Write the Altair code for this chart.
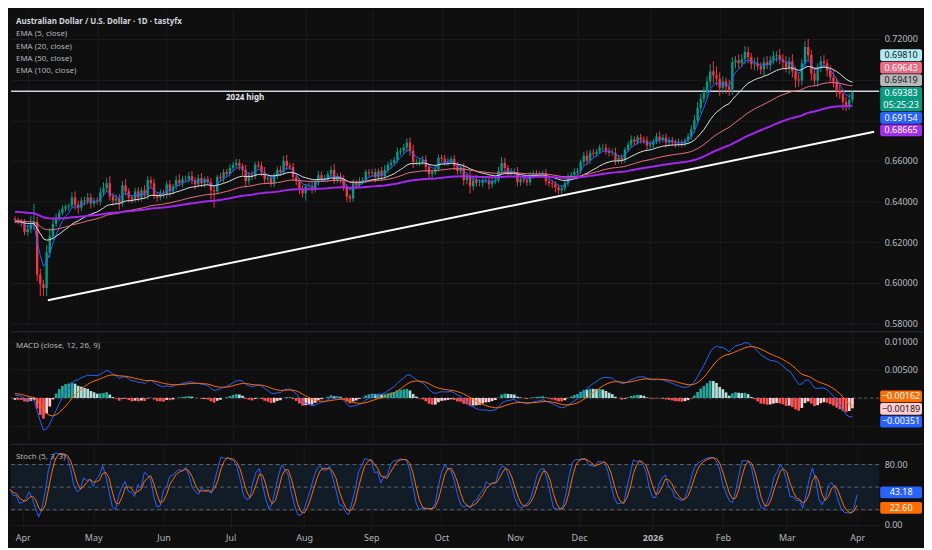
import json
import numpy as np
import pandas as pd
import altair as alt

# ---------------- data ----------------
start_date = "2025-03-26"
end_date = "2026-04-01"

closes = [
    # Mar 26-31 2025
    0.6310, 0.6300, 0.6295, 0.6250,
    # Apr 2025
    0.6265, 0.6285, 0.6300, 0.6040, 0.5995, 0.5975, 0.6150, 0.6230, 0.6290, 0.6320, 0.6345,
    0.6365, 0.6375, 0.6380, 0.6420, 0.6385, 0.6370, 0.6405, 0.6400, 0.6420, 0.6390, 0.6405,
    # May
    0.6400, 0.6445, 0.6465, 0.6490, 0.6425, 0.6405, 0.6415, 0.6390, 0.6480, 0.6450, 0.6420,
    0.6410, 0.6450, 0.6420, 0.6455, 0.6430, 0.6505, 0.6490, 0.6430, 0.6420, 0.6440, 0.6435,
    # Jun
    0.6485, 0.6450, 0.6475, 0.6505, 0.6490, 0.6510, 0.6510, 0.6525, 0.6505, 0.6485, 0.6515,
    0.6490, 0.6510, 0.6495, 0.6455, 0.6450, 0.6520, 0.6515, 0.6545, 0.6535, 0.6565,
    # Jul
    0.6580, 0.6590, 0.6575, 0.6555, 0.6500, 0.6530, 0.6525, 0.6580, 0.6575, 0.6545, 0.6510,
    0.6515, 0.6490, 0.6525, 0.6555, 0.6545, 0.6600, 0.6575, 0.6570, 0.6520, 0.6500, 0.6460, 0.6440,
    # Aug
    0.6475, 0.6475, 0.6460, 0.6495, 0.6530, 0.6510, 0.6515, 0.6535, 0.6555, 0.6505, 0.6525,
    0.6510, 0.6470, 0.6425, 0.6415, 0.6490, 0.6480, 0.6500, 0.6505, 0.6545, 0.6540,
    # Sep
    0.6545, 0.6520, 0.6550, 0.6525, 0.6555, 0.6580, 0.6590, 0.6605, 0.6645, 0.6650, 0.6665,
    0.6690, 0.6650, 0.6595, 0.6595, 0.6595, 0.6605, 0.6570, 0.6535, 0.6545, 0.6560, 0.6615,
    # Oct
    0.6610, 0.6595, 0.6600, 0.6610, 0.6575, 0.6550, 0.6565, 0.6505, 0.6520, 0.6475, 0.6505,
    0.6490, 0.6490, 0.6505, 0.6505, 0.6485, 0.6500, 0.6505, 0.6550, 0.6590, 0.6565, 0.6545, 0.6545,
    # Nov
    0.6545, 0.6495, 0.6510, 0.6505, 0.6495, 0.6530, 0.6535, 0.6530, 0.6535, 0.6540, 0.6500,
    0.6490, 0.6485, 0.6470, 0.6455, 0.6465, 0.6490, 0.6525, 0.6530, 0.6545,
    # Dec
    0.6550, 0.6595, 0.6625, 0.6600, 0.6640, 0.6635, 0.6645, 0.6665, 0.6665, 0.6650, 0.6640,
    0.6640, 0.6605, 0.6615, 0.6605, 0.6655, 0.6680, 0.6705, 0.6695, 0.6715, 0.6705, 0.6700, 0.6675,
    # Jan 2026
    0.6680, 0.6695, 0.6720, 0.6705, 0.6715, 0.6690, 0.6700, 0.6690, 0.6685, 0.6690, 0.6685,
    0.6700, 0.6720, 0.6755, 0.6800, 0.6860, 0.6905, 0.6935, 0.6990, 0.7040, 0.7020, 0.7005,
    # Feb
    0.6960, 0.6990, 0.6965, 0.6950, 0.7085, 0.7095, 0.7080, 0.7100, 0.7135, 0.7110, 0.7075,
    0.7080, 0.7065, 0.7050, 0.7085, 0.7070, 0.7095, 0.7115, 0.7120, 0.7100,
    # Mar
    0.7085, 0.7060, 0.7090, 0.7040, 0.7000, 0.6995, 0.7080, 0.7160, 0.7120, 0.7030, 0.6995,
    0.7060, 0.7090, 0.7080, 0.7045, 0.7010, 0.6990, 0.6950, 0.6930, 0.6890, 0.6875, 0.6900,
    # Apr 1 2026
    0.6938,
]
first_open = 0.6315

upper_wick_pips = [
    12, 10, 15, 18,
    20, 45, 90, 25, 30, 20, 35, 40, 25, 20, 15, 18, 12, 10, 25, 30, 20, 15, 18, 22, 20, 15,
    15, 25, 30, 25, 35, 18, 20, 22, 20, 30, 15, 12, 18, 20, 15, 25, 20, 18, 22, 15, 20, 18,
    15, 20, 12, 22, 30, 15, 18, 20, 25, 15, 18, 25, 12, 15, 20, 18, 12, 20, 15, 15, 18,
    15, 20, 18, 12, 25, 15, 20, 15, 18, 20, 25, 12, 15, 15, 18, 20, 25, 30, 15, 20, 18, 15, 20,
    12, 18, 20, 15, 20, 18, 15, 15, 20, 30, 15, 18, 20, 15, 12, 18, 15, 20, 15, 12, 15,
    15, 18, 12, 20, 25, 15, 18, 15, 20, 15, 18, 20, 25, 30, 15, 18, 20, 22, 15, 12, 18, 15,
    15, 20, 15, 12, 18, 20, 15, 25, 20, 30, 18, 25, 20, 15, 15, 18, 12, 15, 20, 30, 25, 15, 20,
    18, 25, 15, 20, 12, 15, 18, 20, 15, 12, 20, 15, 18, 15, 12, 15, 18, 12, 15, 18,
    15, 12, 20, 25, 15, 18, 12, 15, 20, 18, 15, 20, 25, 15, 18, 12, 15, 20, 15, 12, 18, 15, 20,
    20, 15, 18, 25, 15, 20, 15, 18, 15, 20, 15, 12, 15, 20, 25, 30, 25, 30, 25, 35, 50, 45,
    30, 25, 20, 35, 25, 20, 30, 25, 30, 25, 20, 25, 30, 20, 25, 30, 20, 25, 20, 30,
    25, 30, 20, 35, 25, 30, 20, 30, 40, 25, 30, 20, 25, 30, 20, 25, 35, 20, 25, 20, 25, 30,
    10,
]
lower_wick_pips = [
    15, 12, 20, 15,
    18, 20, 25, 30, 60, 40, 40, 25, 20, 15, 18, 12, 15, 20, 15, 25, 30, 18, 20, 15, 25, 18,
    15, 20, 18, 15, 20, 25, 18, 30, 15, 20, 25, 18, 15, 20, 18, 15, 20, 25, 18, 20, 15, 18,
    20, 25, 15, 18, 15, 20, 15, 18, 20, 25, 15, 18, 20, 15, 45, 80, 15, 18, 20, 15, 12,
    18, 15, 20, 25, 30, 18, 20, 15, 12, 20, 25, 20, 18, 20, 15, 18, 15, 20, 15, 18, 20, 25, 20,
    35, 15, 20, 15, 18, 12, 15, 20, 15, 18, 15, 20, 18, 25, 20, 15, 18, 12, 15, 15, 18,
    20, 25, 18, 20, 15, 15, 18, 12, 15, 18, 15, 20, 25, 30, 18, 20, 15, 25, 20, 18, 15, 12,
    15, 18, 20, 15, 20, 18, 15, 25, 20, 35, 20, 18, 15, 20, 15, 25, 18, 15, 12, 15, 20, 18, 15,
    15, 20, 18, 15, 20, 15, 18, 12, 15, 18, 20, 18, 20, 25, 20, 18, 15, 15, 12, 15,
    12, 15, 18, 20, 15, 18, 15, 12, 15, 20, 18, 15, 25, 18, 20, 15, 12, 15, 18, 15, 20, 18, 20,
    15, 18, 12, 20, 15, 25, 18, 15, 20, 15, 18, 15, 12, 15, 18, 20, 25, 20, 25, 30, 40, 35,
    40, 30, 35, 30, 25, 30, 25, 20, 25, 30, 25, 30, 20, 25, 30, 20, 25, 20, 30, 25,
    30, 25, 35, 30, 40, 30, 25, 20, 30, 35, 25, 30, 25, 20, 30, 25, 30, 35, 25, 40, 30, 25,
    15,
]

# indicator values at the left edge
ema_periods = [5, 20, 50, 100]
ema_seeds = [0.6305, 0.6300, 0.6305, 0.6350]
macd_seed_fast, macd_seed_slow, macd_seed_signal = 0.6305, 0.6300, 0.0008

high_2024 = 0.69419
trend_bars = [10.4, 271.9]
trend_prices = [0.5915, 0.6743]

# grid/tick levels, and the tick labels the picture leaves uncovered
price_ticks = [0.58, 0.60, 0.62, 0.64, 0.66, 0.68, 0.70, 0.72]
price_ticks_shown = [0.58, 0.60, 0.62, 0.64, 0.66, 0.72]
macd_ticks = [0.01, 0.005, 0.0, -0.005]
macd_ticks_shown = [0.01, 0.005]
stoch_ticks = [0, 20, 50, 80]
stoch_ticks_shown = [0, 80]
stoch_levels = [80, 50, 20]
month_names = ["Apr", "May", "Jun", "Jul", "Aug", "Sep", "Oct", "Nov", "Dec", "2026", "Feb", "Mar", "Apr"]

header_price = ["Australian Dollar / U.S. Dollar · 1D · tastyfx",
                "EMA (5, close)", "EMA (20, close)", "EMA (50, close)", "EMA (100, close)"]
header_macd = "MACD (close, 12, 26, 9)"
header_stoch = "Stoch (5, 3, 3)"

# right-scale value tags: (text rows, value, background, text colour, anchor weight)
price_tags = [
    (["0.69810"], 0.69810, "#b2ebf2", "#131722", 1),
    (["0.69643"], 0.69643, "#ec6a84", "#ffffff", 1),
    (["0.69419"], 0.69419, "#b8b8b8", "#131722", 1),
    (["0.69383", "05:25:23"], 0.69383, "#089981", "#ffffff", 20),
    (["0.69154"], 0.69154, "#2962ff", "#ffffff", 1),
    (["0.68665"], 0.68665, "#a030f0", "#ffffff", 1),
]
macd_tags = [
    (["−0.00162"], -0.00162, "#ff6d00", "#ffffff", 1),
    (["−0.00189"], -0.00189, "#ffcdd2", "#131722", 20),
    (["−0.00351"], -0.00351, "#2962ff", "#ffffff", 1),
]
stoch_tags = [
    (["43.18"], 43.18, "#2962ff", "#ffffff", 1),
    (["22.60"], 22.60, "#ff6d00", "#ffffff", 1),
]

# ---------------- style / layout ----------------
FONT = "Noto Sans"
BG = "#0f0f0f"
GRID = "#1c1c1e"
UP, DOWN = "#089981", "#f23645"
W, AX = 872, 44
H1, H2, H3 = 318, 109, 84
ROW = 12.6
price_domain = [0.5789, 0.7346]
macd_domain = [-0.0077, 0.0116]
stoch_domain = [-5.5, 105.6]
x_domain = [0.3, 271.9]

# ---------------- derived table ----------------
dates = pd.bdate_range(start_date, end_date)
n = len(closes)
assert len(dates) == n == len(upper_wick_pips) == len(lower_wick_pips)
c = np.array(closes)
o = np.r_[first_open, c[:-1]]
h = np.maximum(o, c) + np.array(upper_wick_pips) * 1e-4
l = np.minimum(o, c) - np.array(lower_wick_pips) * 1e-4


def ema(x, period, seed):
    a = 2.0 / (period + 1)
    out = np.empty(len(x))
    out[0] = seed
    for k in range(1, len(x)):
        out[k] = out[k - 1] + a * (x[k] - out[k - 1])
    return out


df = pd.DataFrame({"i": np.arange(n), "open": o, "close": c, "high": h, "low": l})
df["dir"] = np.where(c >= o, "up", "down")
for p, s in zip(ema_periods, ema_seeds):
    df[f"ema{p}"] = ema(c, p, s)
macd = ema(c, 12, macd_seed_fast) - ema(c, 26, macd_seed_slow)
sig = ema(macd, 9, macd_seed_signal)
hist = macd - sig
hprev = np.r_[hist[0], hist[:-1]]
df["macd"], df["signal"], df["hist"] = macd, sig, hist
df["hcol"] = np.where(hist >= 0,
                      np.where(hist > hprev, "#26a69a", "#b2dfdb"),
                      np.where(hist < hprev, "#ff5252", "#ffcdd2"))
ll = pd.Series(l).rolling(5, min_periods=1).min()
hh = pd.Series(h).rolling(5, min_periods=1).max()
raw = 100 * (pd.Series(c) - ll) / (hh - ll)
df["k"] = raw.rolling(3, min_periods=1).mean()
df["d"] = df["k"].rolling(3, min_periods=1).mean()

month_idx = [k for k in range(1, n) if dates[k].month != dates[k - 1].month]
label_expr = f"{json.dumps(month_names)}[indexof({json.dumps(month_idx)}, datum.value)]"


# ---------------- helpers ----------------
def x_axis(show):
    common = dict(values=month_idx, grid=True, gridColor=GRID, domain=False, ticks=False, title=None)
    if show:
        return alt.Axis(labels=True, labelExpr=label_expr, labelColor="#b2b5be", labelFont=FONT,
                        labelFontSize=9, labelPadding=5, minExtent=18, maxExtent=18,
                        labelFontWeight={"condition": {"test": f"datum.value == {month_idx[9]}", "value": "bold"},
                                         "value": "normal"},
                        **common)
    return alt.Axis(labels=False, minExtent=0, maxExtent=0, **common)


def X(show, field="i"):
    return alt.X(f"{field}:Q", scale=alt.Scale(domain=x_domain, nice=False, zero=False), axis=x_axis(show))


def make_Y(domain, ticks, shown, fmt):
    expr = f"indexof({json.dumps(shown)}, datum.value) >= 0 ? format(datum.value, '{fmt}') : ''"

    def Y(field):
        return alt.Y(f"{field}:Q", scale=alt.Scale(domain=domain, nice=False, zero=False),
                     axis=alt.Axis(orient="right", values=ticks, labelExpr=expr, grid=True, gridColor=GRID,
                                   domain=False, ticks=False, labelColor="#b8bcc4", labelFont=FONT,
                                   labelFontSize=9, labelPadding=5, labelOverlap=False, title=None,
                                   minExtent=AX, maxExtent=AX))
    return Y


def tag_layers(tags, domain, height, Y):
    span = domain[1] - domain[0]
    to_px = lambda v: (domain[1] - v) / span * height
    to_val = lambda px: domain[1] - px / height * span
    order = sorted(range(len(tags)), key=lambda k: -tags[k][1])
    nat = [to_px(tags[k][1]) - ROW / 2 for k in order]
    hts = [len(tags[k][0]) * ROW for k in order]
    wts = [tags[k][4] for k in order]

    def top_of(b):
        offs = np.cumsum([0] + [hts[j] for j in b[:-1]])
        return np.average([nat[j] - offs[q] for q, j in enumerate(b)], weights=[wts[j] for j in b])

    blocks = [[j] for j in range(len(order))]
    merged = True
    while merged:
        merged = False
        for bi in range(len(blocks) - 1):
            t1 = top_of(blocks[bi])
            h1 = sum(hts[j] for j in blocks[bi])
            if t1 + h1 > top_of(blocks[bi + 1]):
                blocks[bi] = blocks[bi] + blocks.pop(bi + 1)
                merged = True
                break
    rects, texts = [], []
    for b in blocks:
        t = top_of(b)
        for j in b:
            rows, _, bg, fg, _w = tags[order[j]]
            rects.append({"y1": to_val(t + 0.4), "y2": to_val(t + len(rows) * ROW - 0.4), "bg": bg})
            for q, r in enumerate(rows):
                texts.append({"yc": to_val(t + (q + 0.5) * ROW), "t": r, "fg": fg})
            t += len(rows) * ROW
    rect = alt.Chart(pd.DataFrame(rects)).mark_rect(cornerRadius=2).encode(
        y=Y("y1"), y2="y2:Q", x=alt.value(W + 1), x2=alt.value(W + 43),
        color=alt.Color("bg:N", scale=None))
    text = alt.Chart(pd.DataFrame(texts)).mark_text(font=FONT, fontSize=9, align="center",
                                                    baseline="middle").encode(
        y=Y("yc"), x=alt.value(W + 22), text="t:N", color=alt.Color("fg:N", scale=None))
    return [rect, text]


def header(txt, y, color="#b2b5be", weight="normal", size=8):
    return alt.Chart(pd.DataFrame({"t": [txt]})).mark_text(
        font=FONT, fontSize=size, fontWeight=weight, align="left", baseline="middle", color=color
    ).encode(x=alt.value(5), y=alt.value(y), text="t:N")


def separator():
    return alt.Chart(pd.DataFrame({"t": [0]})).mark_rule(color="#2a2e39", strokeWidth=1).encode(
        x=alt.value(0), x2=alt.value(W + AX), y=alt.value(-1))


dircolor = alt.Color("dir:N", scale=alt.Scale(domain=["up", "down"], range=[UP, DOWN]), legend=None)
base = alt.Chart(df)

# ---------------- price panel ----------------
YP = make_Y(price_domain, price_ticks, price_ticks_shown, ".5f")
wicks = base.mark_rule(strokeWidth=1).encode(x=X(False), y=YP("low"), y2="high:Q", color=dircolor)
bodies = base.mark_bar(size=2.4).encode(x=X(False), y=YP("open"), y2="close:Q", color=dircolor)
ema_styles = [("ema5", "#2962ff", 1), ("ema20", "#d4e4e6", 1), ("ema50", "#e8707f", 1), ("ema100", "#a526f0", 2)]
ema_layers = [base.mark_line(color=col, strokeWidth=sw).encode(x=X(False), y=YP(f)) for f, col, sw in ema_styles]
hline = alt.Chart(pd.DataFrame({"v": [high_2024]})).mark_rule(color="#d1d4dc", strokeWidth=1.5).encode(y=YP("v"))
htext = alt.Chart(pd.DataFrame({"bar": [72.8], "v": [high_2024], "t": ["2024 high"]})).mark_text(
    font=FONT, fontSize=8, fontWeight="bold", color="#e6e8ee", dy=7).encode(x=X(False, "bar"), y=YP("v"), text="t:N")
trend = alt.Chart(pd.DataFrame({"bar": trend_bars, "p": trend_prices})).mark_line(
    color="#ffffff", strokeWidth=2).encode(x=X(False, "bar"), y=YP("p"))
hdrs = [header(header_price[0], 12.6, "#d1d4dc", "bold", 8)] + [
    header(t, y) for t, y in zip(header_price[1:], [25, 37.9, 50.5, 62.4])]
price = alt.layer(hline, wicks, bodies, *ema_layers, trend, htext,
                  *tag_layers(price_tags, price_domain, H1, YP), *hdrs).properties(width=W, height=H1)

# ---------------- MACD panel ----------------
YM = make_Y(macd_domain, macd_ticks, macd_ticks_shown, ".5f")
zero = alt.Chart(pd.DataFrame({"z": [0.0]})).mark_rule(color="#5d606b", strokeDash=[3, 3]).encode(y=YM("z"))
hbars = base.mark_bar(size=2.7).encode(x=X(False), y=YM("hist"), y2=alt.datum(0), color=alt.Color("hcol:N", scale=None))
mline = base.mark_line(color="#2962ff", strokeWidth=1).encode(x=X(False), y=YM("macd"))
sline = base.mark_line(color="#ff6d00", strokeWidth=1).encode(x=X(False), y=YM("signal"))
macd_panel = alt.layer(zero, hbars, mline, sline, *tag_layers(macd_tags, macd_domain, H2, YM),
                       header(header_macd, 13), separator()).properties(width=W, height=H2)

# ---------------- Stoch panel ----------------
YS = make_Y(stoch_domain, stoch_ticks, stoch_ticks_shown, ".2f")
band = alt.Chart(pd.DataFrame({"top": [max(stoch_levels)], "bot": [min(stoch_levels)]})).mark_rect(
    color="#111c27").encode(y=YS("top"), y2="bot:Q", x=alt.value(0), x2=alt.value(W))
levels = alt.Chart(pd.DataFrame({"lv": stoch_levels})).mark_rule(color="#5d606b", strokeDash=[4, 3]).encode(y=YS("lv"))
kline = base.mark_line(color="#2962ff", strokeWidth=1).encode(x=X(True), y=YS("k"))
dline = base.mark_line(color="#ff6d00", strokeWidth=1).encode(x=X(True), y=YS("d"))
stoch_panel = alt.layer(band, levels, kline, dline, *tag_layers(stoch_tags, stoch_domain, H3, YS),
                        header(header_stoch, 12), separator()).properties(width=W, height=H3)

chart = alt.vconcat(price, macd_panel, stoch_panel, spacing=2).properties(
    padding=0, background=BG).configure_view(stroke=None)

chart.save("out.html", embed_options={"renderer": "svg", "actions": False})
